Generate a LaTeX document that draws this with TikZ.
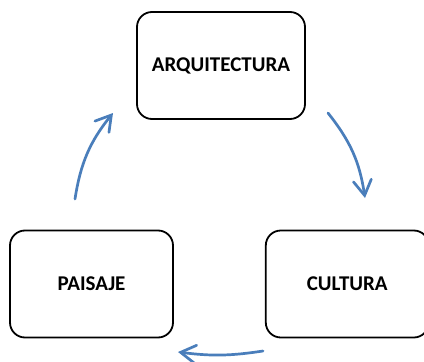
\documentclass[tikz,border=0pt]{standalone}
\usepackage{fontspec}
\setmainfont{Carlito}
\usetikzlibrary{arrows.meta,positioning}
\definecolor{arrowblue}{HTML}{4A7EBB}

\begin{document}
\begin{tikzpicture}[x=1pt, y=1pt, every node/.style={font=\bfseries\fontsize{21}{25}\selectfont},
		box/.style={draw, line width=1.8pt, rounded corners=15pt, minimum height=107pt, align=center},
		flow/.style={draw=arrowblue, line width=2.7pt, line cap=round, -{Straight Barb[length=15pt,width=18pt,line cap=round]}}]
	\useasboundingbox (0,0) rectangle (424,-362);
	\node[box, minimum width=168pt] (arq) at (221,-65.5) {ARQUITECTURA};
	\node[box, minimum width=163pt] (paisaje) at (91.5,-284) {PAISAJE};
	\node[box, minimum width=163pt, right=91pt of paisaje] (cultura) {CULTURA};
	\coordinate (pa1) at (75,-199); \coordinate (pa2) at (113,-113);
	\coordinate (ac1) at (328,-113); \coordinate (ac2) at (365,-198);
	\coordinate (cp1) at (263,-351); \coordinate (cp2) at (178,-352);
	\draw[flow] (pa1) to[bend left=15] (pa2);
	\draw[flow] (ac1) to[bend left=15] (ac2);
	\draw[flow] (cp1) to[bend left=8] (cp2);
\end{tikzpicture}
\end{document}
